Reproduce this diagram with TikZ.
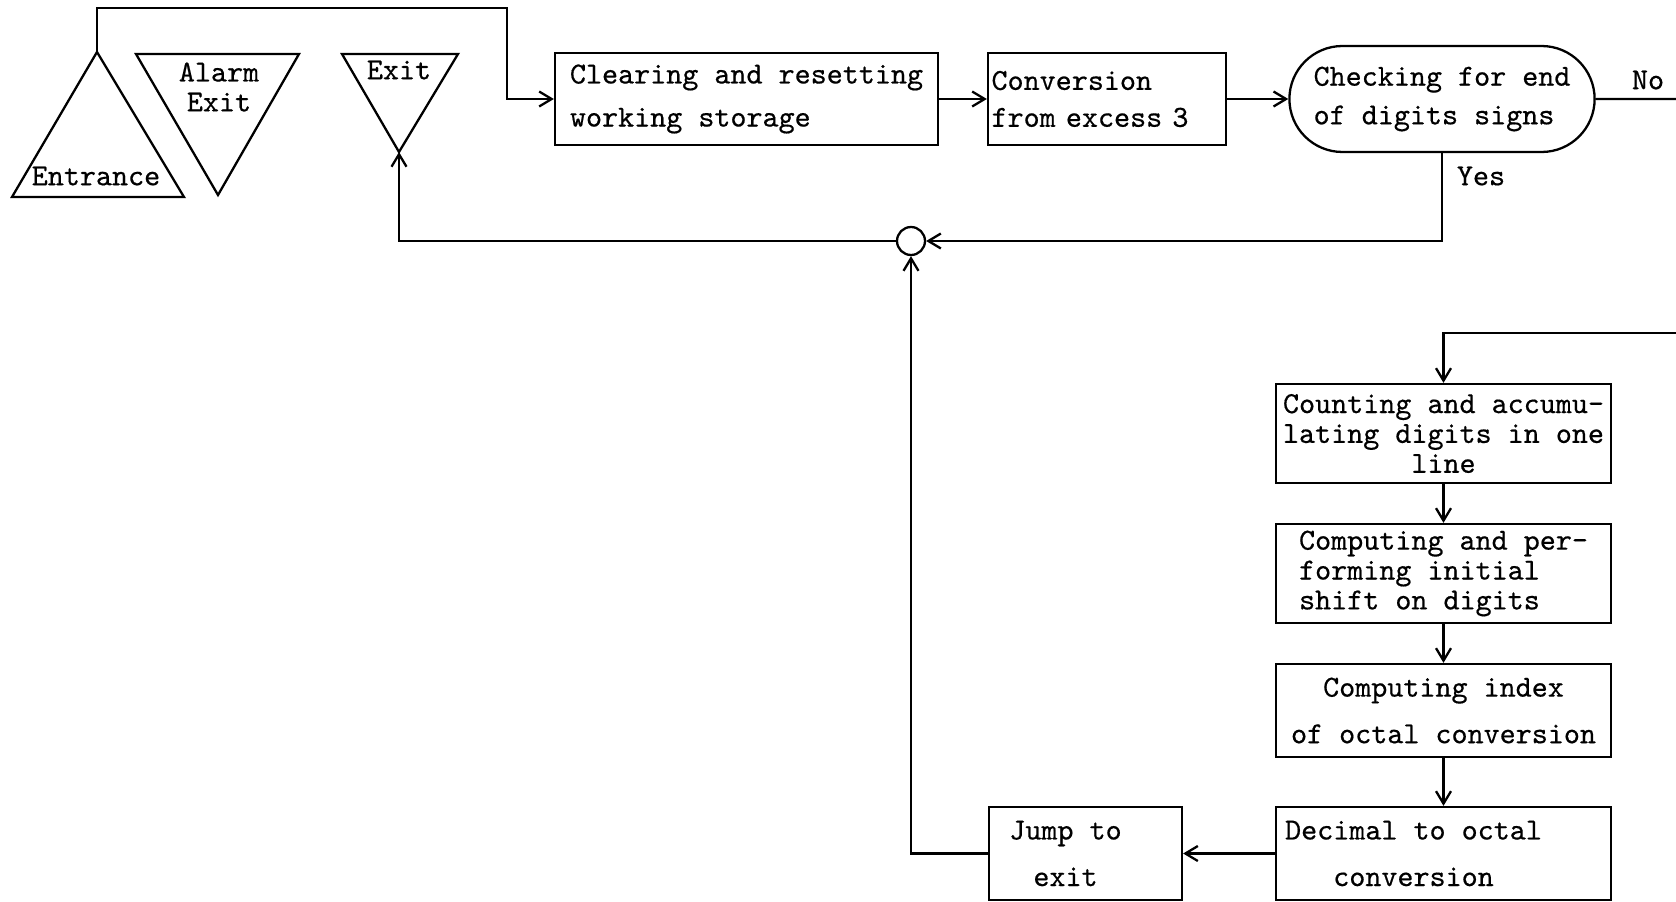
\documentclass[tikz,border=0pt]{standalone}
\usepackage{fontspec}
\usepackage{tikz}
\usetikzlibrary{arrows.meta,shapes.misc}
\newfontfamily\flowtt[FakeBold=0.5]{lmmono10-regular.otf}
\newcommand{\flowfont}{\fontsize{17.4}{17}\flowtt\selectfont}

\begin{document}
\begin{tikzpicture}[
  x=0.02cm, y=-0.02cm,
  line width=1.3pt,
  >={Straight Barb[length=2.5mm,width=3mm]},
  block/.style={draw, font=\flowfont, inner sep=2pt},
  decision/.style={draw, rounded rectangle, font=\flowfont, minimum width=6.34cm, minimum height=2.12cm, align=left},
  junction/.style={draw, circle, minimum size=0.56cm, inner sep=0pt},
  tag/.style={font=\flowfont, inner sep=0pt},
]
\useasboundingbox (0,0) rectangle (1676,902);
% Entrance and exits
\coordinate (entr) at (97,52);
\coordinate (exitpt) at (399,152);
\draw (12,197) -- (entr) -- (184,197) -- cycle;
\draw (136,54) -- (299,54) -- (218,195) -- cycle;
\draw (342,54) -- (458,54) -- (exitpt) -- cycle;
\node[tag] (entrlbl) at (96,176) {Entrance};
\node[tag, align=center] (alarmlbl) at (219,87) {Alarm\\Exit};
\node[tag] (exitlbl) at (399,70) {Exit};
% Top row
\node[block, minimum width=7.66cm, minimum height=1.84cm, align=left] (clear) at (746.5,99) {Clearing and resetting\\[7.5pt]working storage};
\node[block, text width=4.62cm, minimum height=1.84cm, align=left] (conv) at (1107,99) {Conversion\\[4pt]from excess 3};
\node[decision] (check) at (1442,99) {Checking for end\\[5pt]of digits signs};
\node[junction] (join) at (911,241) {};
% Right column
\node[block, minimum width=6.7cm, minimum height=1.98cm, align=center] (count) at (1443.5,433.5) {Counting and accumu-\\lating digits in one\\line};
\node[block, minimum width=6.7cm, minimum height=1.98cm, align=left] (comp) at (1443.5,573.5) {Computing and per-\\forming initial\\shift on digits};
\node[block, minimum width=6.7cm, minimum height=1.86cm, align=center] (index) at (1443.5,710.5) {Computing index\\[9.5pt]of octal conversion};
\node[block, minimum width=6.7cm, minimum height=1.86cm, align=center] (dec) at (1443.5,853.5) {Decimal to octal\hspace*{1.2cm}\\[9.5pt]conversion\hspace*{1.2cm}};
\node[block, minimum width=3.86cm, minimum height=1.86cm, align=center] (jump) at (1085.5,853.5) {Jump to\hspace*{0.8cm}\\[9.5pt]exit\hspace*{0.8cm}};
\node[tag] (no) at (1648,80) {No};
\node[tag] (yes) at (1481,176) {Yes};
\coordinate (topturn) at (507,8);
\coordinate (noend) at (1676,99);
\coordinate (backin) at (1676,333);
% Connectors
\draw[->] (entr) |- (topturn) |- (clear.west);
\draw[->] (clear) -- (conv);
\draw[->] (conv) -- (check);
\draw (check) -- (noend);
\draw[->] (check.south) |- (join);
\draw[->] (join) -| (exitpt);
\draw[->] (backin) -| (count);
\draw[->] (count) -- (comp);
\draw[->] (comp) -- (index);
\draw[->] (index) -- (dec);
\draw[->] (dec) -- (jump);
\draw[->] (jump) -| (join);
\end{tikzpicture}
\end{document}
